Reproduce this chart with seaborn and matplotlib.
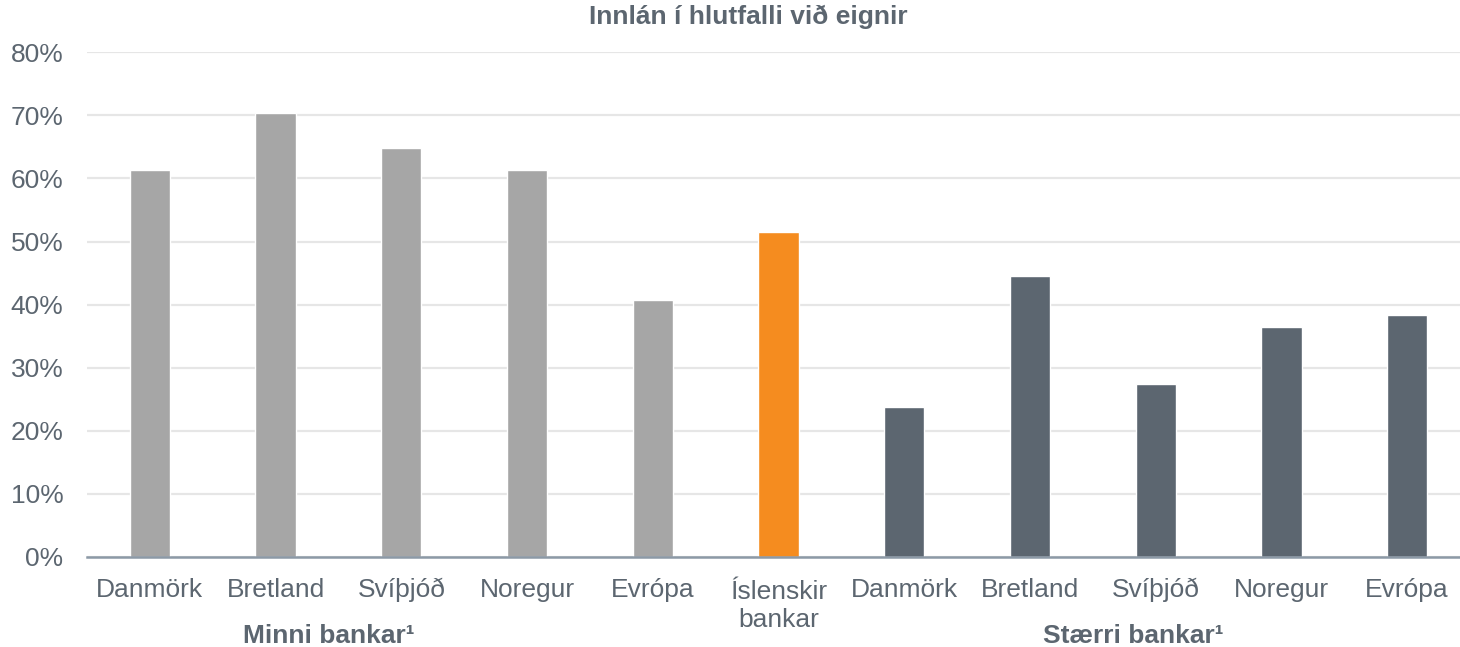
import matplotlib
matplotlib.use('Agg')
import matplotlib.pyplot as plt
import matplotlib.transforms as mtransforms
import seaborn as sns
import pandas as pd
from matplotlib.ticker import PercentFormatter

# Data
labels = ['Danmörk', 'Bretland', 'Svíþjóð', 'Noregur', 'Evrópa',
          'Íslenskir\nbankar',
          'Danmörk', 'Bretland', 'Svíþjóð', 'Noregur', 'Evrópa']
groups = ['minni'] * 5 + ['island'] + ['staerri'] * 5
values = [61.3, 70.4, 64.8, 61.3, 40.7, 51.5, 23.8, 44.5, 27.4, 36.4, 38.3]
group_labels = ['Minni bankar¹', 'Stærri bankar¹']
group_label_pos = [1.42, 7.82]
title = 'Innlán í hlutfalli við eignir'

colors = {'minni': '#A6A6A6', 'island': '#F58C1F', 'staerri': '#5C6670'}
text_color = '#5C6670'

df = pd.DataFrame({
    'key': [f'{i}' for i in range(len(labels))],
    'group': groups,
    'value': values,
})

sns.set_style('white')
plt.rcParams['font.family'] = ['Liberation Sans', 'DejaVu Sans']

fig = plt.figure(figsize=(14.6, 6.47), dpi=100)
ax = fig.add_axes([87 / 1460, 90 / 647, 1383 / 1460, 504.7 / 647])

sns.barplot(data=df, x='key', y='value', hue='group', palette=colors,
            dodge=False, width=0.32, legend=False, ax=ax, saturation=1)

ax.set_ylim(0, 80)
ax.set_xlim(-0.5, len(labels) - 0.5)
ax.set_yticks(range(0, 81, 10))
ax.yaxis.set_major_formatter(PercentFormatter(decimals=0))
ax.set_xticks(range(len(labels)))
ax.set_xticklabels(labels, linespacing=1.2)
ax.set_xlabel('')
ax.set_ylabel('')

ax.grid(axis='y', color='#E6E6E6', linewidth=1.6)
ax.set_axisbelow(True)
for s in ['top', 'right', 'left']:
    ax.spines[s].set_visible(False)
ax.spines['bottom'].set_color('#8C99A6')
ax.spines['bottom'].set_linewidth(1.8)

ax.tick_params(axis='y', length=0, pad=17, labelsize=19, labelcolor=text_color)
ax.tick_params(axis='x', length=0, pad=28.8, labelsize=19, labelcolor=text_color)

# align all x labels on the first-line baseline
for lab in ax.get_xticklabels():
    lab.set_va('baseline')
    n_extra = lab.get_text().count('\n')
    if n_extra:
        shift = mtransforms.ScaledTranslation(0, -0.30 * n_extra, fig.dpi_scale_trans)
        lab.set_transform(lab.get_transform() + shift)

for pos, txt in zip(group_label_pos, group_labels):
    ax.annotate(txt, xy=(pos, 4 / 647), xycoords=('data', 'figure fraction'),
                ha='center', va='baseline', fontsize=19, fontweight='bold',
                color=text_color)

fig.text(748 / 1460, (647 - 24) / 647, title, ha='center', va='baseline',
         fontsize=19, fontweight='bold', color=text_color)

fig.savefig('out.png', dpi=100)
